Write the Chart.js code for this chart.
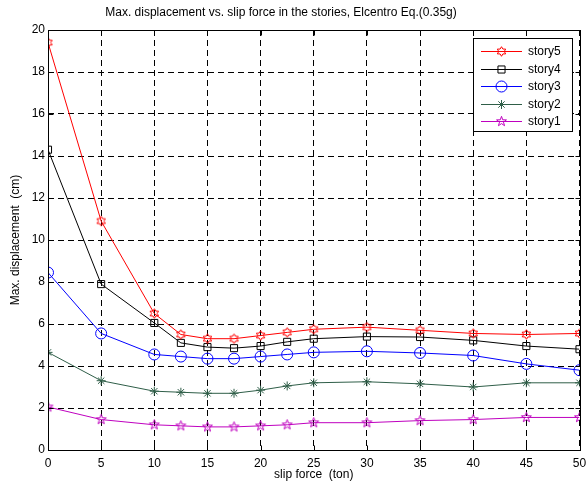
<!DOCTYPE html>
<html lang="en">
<head>
<meta charset="UTF-8">
<title>Max. displacement vs. slip force</title>
<script src="https://cdn.jsdelivr.net/npm/chart.js"></script>
<style>
  body { margin: 0; background: #fff; }
  #wrap { width: 586px; height: 485px; }
</style>
</head>
<body>
<div id="wrap"><canvas id="dispChart" width="586" height="485"></canvas></div>
<script>
// data
var slipForce = [0, 5, 10, 12.5, 15, 17.5, 20, 22.5, 25, 30, 35, 40, 45, 50];
var story5 = [19.4, 10.9, 6.5, 5.5, 5.3, 5.3, 5.45, 5.6, 5.75, 5.85, 5.7, 5.55, 5.5, 5.55];
var story4 = [14.3, 7.9, 6.05, 5.1, 4.9, 4.85, 4.95, 5.15, 5.3, 5.4, 5.38, 5.22, 4.95, 4.8];
var story3 = [8.45, 5.55, 4.55, 4.45, 4.35, 4.35, 4.45, 4.55, 4.65, 4.7, 4.62, 4.5, 4.1, 3.8];
var story2 = [4.65, 3.3, 2.8, 2.75, 2.7, 2.7, 2.85, 3.05, 3.2, 3.25, 3.15, 3.0, 3.2, 3.2];
var story1 = [2.05, 1.45, 1.2, 1.15, 1.1, 1.1, 1.15, 1.2, 1.3, 1.3, 1.4, 1.45, 1.55, 1.55];
var seriesNames = ['story5', 'story4', 'story3', 'story2', 'story1'];
var xTicks = [0, 5, 10, 15, 20, 25, 30, 35, 40, 45, 50];
var yTicks = [0, 2, 4, 6, 8, 10, 12, 14, 16, 18, 20];

var FONT = 'Arial, "Liberation Sans", sans-serif';

// star-shaped markers (matlab hexagram / pentagram) as small canvases
function starMarker(points, rOut, rIn, color) {
    var c = document.createElement('canvas');
    c.width = 13; c.height = 13;
    var g = c.getContext('2d');
    g.strokeStyle = color;
    g.lineWidth = 1;
    g.beginPath();
    for (var i = 0; i < points * 2; i++) {
        var r = i % 2 === 0 ? rOut : rIn;
        var a = -Math.PI / 2 + i * Math.PI / points;
        var px = 6.5 + r * Math.cos(a), py = 6.5 + r * Math.sin(a);
        if (i === 0) g.moveTo(px, py); else g.lineTo(px, py);
    }
    g.closePath();
    g.stroke();
    return c;
}

function toPoints(ys) {
    return slipForce.map(function (x, i) { return { x: x, y: ys[i] }; });
}

var colors = ['#ff0000', '#000000', '#0000ff', '#2f5e48', '#bf00bf'];
var styles = [
    starMarker(6, 4.8, 2.8, colors[0]),
    'rect',
    'circle',
    'star',
    starMarker(5, 5.2, 2.1, colors[4])
];
var radii = [5, 5, 5.5, 4.5, 5];
var allSeries = [story5, story4, story3, story2, story1];

var datasets = allSeries.map(function (ys, i) {
    return {
        label: seriesNames[i],
        data: toPoints(ys),
        borderColor: colors[i],
        backgroundColor: 'transparent',
        pointBorderColor: colors[i],
        pointBackgroundColor: 'transparent',
        pointStyle: styles[i],
        pointRadius: radii[i],
        pointHoverRadius: radii[i],
        pointBorderWidth: 1,
        borderWidth: 1,
        tension: 0,
        showLine: true
    };
});

// box around the axes with inward ticks, title and matlab style legend
var decorations = {
    id: 'decorations',
    afterDraw: function (chart) {
        var ctx = chart.ctx, a = chart.chartArea;
        var xs = chart.scales.x, ys = chart.scales.y;
        ctx.save();
        ctx.strokeStyle = '#000';
        ctx.lineWidth = 1;
        ctx.setLineDash([]);
        var l = Math.round(a.left) + 0.5, t = Math.round(a.top) + 0.5;
        var r = Math.round(a.right) + 0.5, b = Math.round(a.bottom) + 0.5;
        ctx.strokeRect(l, t, r - l, b - t);
        ctx.beginPath();
        xTicks.forEach(function (v) {
            var px = Math.round(xs.getPixelForValue(v)) + 0.5;
            ctx.moveTo(px, b); ctx.lineTo(px, b - 5);
            ctx.moveTo(px, t); ctx.lineTo(px, t + 5);
        });
        yTicks.forEach(function (v) {
            var py = Math.round(ys.getPixelForValue(v)) + 0.5;
            ctx.moveTo(l, py); ctx.lineTo(l + 5, py);
            ctx.moveTo(r, py); ctx.lineTo(r - 5, py);
        });
        ctx.stroke();

        ctx.fillStyle = '#000';
        ctx.font = '12px ' + FONT;
        ctx.textAlign = 'center';
        ctx.textBaseline = 'middle';
        ctx.fillText('Max. displacement vs. slip force in the stories, Elcentro Eq.(0.35g)', 281, 13);

        // legend
        var bx = 473.5, by = 38.5, bw = 99, bh = 93;
        ctx.fillStyle = '#fff';
        ctx.fillRect(bx, by, bw, bh);
        ctx.strokeRect(bx, by, bw, bh);
        chart.data.datasets.forEach(function (ds, i) {
            var yy = Math.round(51 + i * 17.5) + 0.5;
            ctx.strokeStyle = ds.borderColor;
            ctx.beginPath();
            ctx.moveTo(481, yy);
            ctx.lineTo(522, yy);
            ctx.stroke();
            if (typeof ds.pointStyle === 'string') {
                ctx.fillStyle = 'rgba(0,0,0,0)';
                Chart.helpers.drawPoint(ctx, {
                    pointStyle: ds.pointStyle, radius: ds.pointRadius,
                    borderWidth: 1, rotation: 0
                }, 501.5, yy);
            } else {
                ctx.drawImage(ds.pointStyle, 501.5 - 6.5, yy - 6.5);
            }
            ctx.fillStyle = '#000';
            ctx.textAlign = 'left';
            ctx.fillText(ds.label, 528, yy);
        });
        ctx.restore();
    }
};

new Chart(document.getElementById('dispChart'), {
    type: 'scatter',
    data: { datasets: datasets },
    options: {
        responsive: false,
        animation: false,
        layout: { padding: { top: 30, right: 6, left: 0, bottom: 0 } },
        plugins: {
            legend: { display: false },
            tooltip: { enabled: false },
            title: { display: false }
        },
        scales: {
            x: {
                type: 'linear',
                min: 0, max: 50,
                afterFit: function (s) { s.height = 35; s.paddingLeft = 0; s.paddingRight = 0; },
                afterBuildTicks: function (s) { s.ticks = xTicks.map(function (v) { return { value: v }; }); },
                ticks: { color: '#000', padding: 6, font: { size: 12, family: FONT }, maxRotation: 0 },
                grid: { color: '#000', lineWidth: 1, drawTicks: false },
                border: { display: false, dash: [6, 4] },
                title: { display: true, text: 'slip force  (ton)', color: '#000', font: { size: 12, family: FONT }, padding: { top: 0, bottom: 3 } }
            },
            y: {
                type: 'linear',
                min: 0, max: 20,
                afterFit: function (s) { s.width = 48; s.paddingTop = 0; s.paddingBottom = 0; },
                afterBuildTicks: function (s) { s.ticks = yTicks.map(function (v) { return { value: v }; }); },
                ticks: { color: '#000', padding: 3, font: { size: 12, family: FONT } },
                grid: { color: '#000', lineWidth: 1, drawTicks: false },
                border: { display: false, dash: [6, 4] },
                title: { display: true, text: 'Max. displacement  (cm)', color: '#000', font: { size: 12, family: FONT }, padding: { top: 8, bottom: 0 } }
            }
        }
    },
    plugins: [decorations]
});
</script>
</body>
</html>
